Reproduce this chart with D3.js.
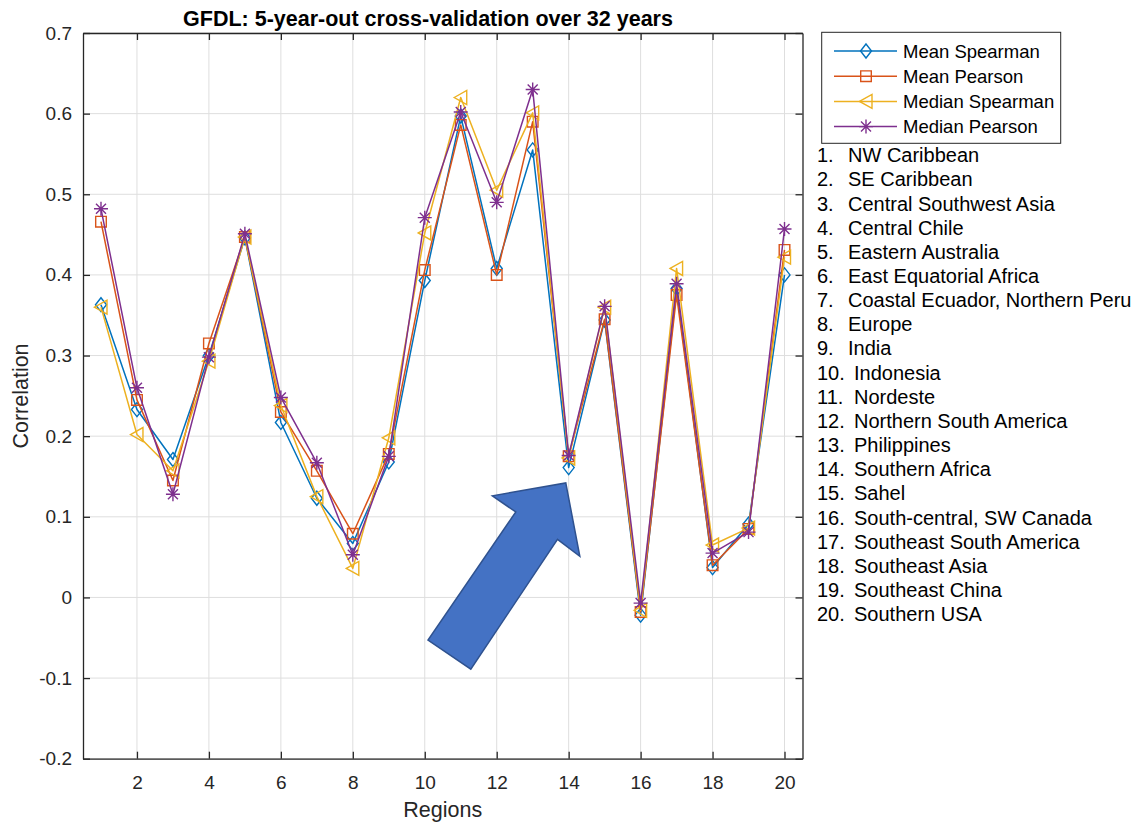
<!DOCTYPE html>
<html>
<head>
<meta charset="utf-8">
<script src="https://cdn.jsdelivr.net/npm/d3@7/dist/d3.min.js"></script>
<style>
  html, body { margin: 0; padding: 0; background: #fff; }
  svg { display: block; font-family: "Liberation Sans", Arial, Helvetica, sans-serif; }
</style>
</head>
<body>
<svg id="chart" width="1142" height="823"></svg>
<script>
// Region numbers along the x axis
const regions = d3.range(1, 21);

// Cross-validated correlation per region, one array per statistic
const meanSpearman   = [0.363, 0.233, 0.171, 0.300, 0.446, 0.217, 0.123, 0.067, 0.168, 0.393, 0.597, 0.408, 0.555, 0.161, 0.344, -0.022, 0.383, 0.037, 0.091, 0.400];
const meanPearson    = [0.466, 0.245, 0.145, 0.315, 0.447, 0.230, 0.157, 0.079, 0.178, 0.406, 0.586, 0.400, 0.590, 0.175, 0.345, -0.018, 0.375, 0.040, 0.085, 0.431];
const medianSpearman = [0.360, 0.202, 0.157, 0.293, 0.447, 0.238, 0.125, 0.036, 0.198, 0.452, 0.620, 0.505, 0.601, 0.173, 0.360, -0.016, 0.408, 0.065, 0.086, 0.422];
const medianPearson  = [0.482, 0.260, 0.128, 0.298, 0.451, 0.248, 0.167, 0.053, 0.175, 0.471, 0.602, 0.490, 0.630, 0.176, 0.361, -0.007, 0.389, 0.055, 0.081, 0.457];

const seriesNames = ["Mean Spearman", "Mean Pearson", "Median Spearman", "Median Pearson"];
const seriesColors = ["#0072BD", "#D95319", "#EDB120", "#7E2F8E"];
const seriesMarkers = ["diamond", "square", "triangleLeft", "asterisk"];

// Axis ticks
const xTicks = [2, 4, 6, 8, 10, 12, 14, 16, 18, 20];
const yTicks = [-0.2, -0.1, 0, 0.1, 0.2, 0.3, 0.4, 0.5, 0.6, 0.7];
const yTickLabels = ["-0.2", "-0.1", "0", "0.1", "0.2", "0.3", "0.4", "0.5", "0.6", "0.7"];

// Region names listed beside the legend
const regionNames = [
  "NW Caribbean", "SE Caribbean", "Central Southwest Asia", "Central Chile",
  "Eastern Australia", "East Equatorial Africa", "Coastal Ecuador, Northern Peru",
  "Europe", "India", "Indonesia", "Nordeste", "Northern South America",
  "Philippines", "Southern Africa", "Sahel", "South-central, SW Canada",
  "Southeast South America", "Southeast Asia", "Southeast China", "Southern USA"
];

// Callout arrow outline, in (region, correlation) units
const arrowX = [13.92, 14.31, 13.69, 11.28, 10.09, 12.53, 11.88];
const arrowY = [0.142, 0.051, 0.072, -0.089, -0.053, 0.106, 0.126];

const series = [meanSpearman, meanPearson, medianSpearman, medianPearson];

const svg = d3.select("#chart");
const plot = { left: 83, right: 802.5, top: 33, bottom: 758.7 };

const x = d3.scaleLinear().domain([0.5, 20.5]).range([plot.left, plot.right]);
const y = d3.scaleLinear().domain([-0.2, 0.7]).range([plot.bottom, plot.top]);

const axisColor = "#262626";
const gridColor = "#dedede";

// Grid
const grid = svg.append("g");
grid.selectAll("line.gx").data(xTicks).join("line")
  .attr("x1", d => x(d)).attr("x2", d => x(d))
  .attr("y1", plot.top).attr("y2", plot.bottom)
  .attr("stroke", gridColor).attr("stroke-width", 1);
grid.selectAll("line.gy").data(yTicks).join("line")
  .attr("x1", plot.left).attr("x2", plot.right)
  .attr("y1", d => y(d)).attr("y2", d => y(d))
  .attr("stroke", gridColor).attr("stroke-width", 1);

// Axes with inward ticks on all four sides
const tickLen = 7;
const fmtY = d => yTickLabels[yTicks.indexOf(d)];
const styleAxis = g => {
  g.select(".domain").attr("stroke", axisColor).attr("stroke-width", 1.3);
  g.selectAll(".tick line").attr("stroke", axisColor).attr("stroke-width", 1.3);
  g.selectAll(".tick text").attr("fill", axisColor)
    .style("font-size", "19px").style("font-family", "'Liberation Sans', Arial, sans-serif");
};

svg.append("g").attr("transform", `translate(0,${plot.bottom})`)
  .call(d3.axisBottom(x).tickValues(xTicks).tickSize(-tickLen).tickPadding(17).tickSizeOuter(0))
  .call(styleAxis);
svg.append("g").attr("transform", `translate(0,${plot.top})`)
  .call(d3.axisTop(x).tickValues(xTicks).tickSize(-tickLen).tickFormat("").tickSizeOuter(0))
  .call(styleAxis);
svg.append("g").attr("transform", `translate(${plot.left},0)`)
  .call(d3.axisLeft(y).tickValues(yTicks).tickSize(-tickLen).tickPadding(11).tickFormat(fmtY).tickSizeOuter(0))
  .call(styleAxis);
svg.append("g").attr("transform", `translate(${plot.right},0)`)
  .call(d3.axisRight(y).tickValues(yTicks).tickSize(-tickLen).tickFormat("").tickSizeOuter(0))
  .call(styleAxis);

// Marker shapes
function markerPath(type) {
  switch (type) {
    case "diamond": return "M0,-7L5.5,0L0,7L-5.5,0Z";
    case "square": return "M-5.3,-5.3H5.3V5.3H-5.3Z";
    case "triangleLeft": return "M-6.5,0L6,-7L6,7Z";
    case "asterisk": return "M0,-7V7M-7,0H7M-5,-5L5,5M-5,5L5,-5";
  }
}

const line = d3.line().x((d, i) => x(regions[i])).y(d => y(d));

series.forEach((vals, s) => {
  const g = svg.append("g");
  g.append("path").datum(vals)
    .attr("d", line)
    .attr("fill", "none")
    .attr("stroke", seriesColors[s])
    .attr("stroke-width", 1.5)
    .attr("stroke-linejoin", "round");
  g.selectAll("path.m").data(vals).join("path")
    .attr("class", "m")
    .attr("transform", (d, i) => `translate(${x(regions[i])},${y(d)})`)
    .attr("d", markerPath(seriesMarkers[s]))
    .attr("fill", "none")
    .attr("stroke", seriesColors[s])
    .attr("stroke-width", 1.4);
});

// Callout arrow
svg.append("path")
  .datum(arrowX.map((v, i) => [x(v), y(arrowY[i])]))
  .attr("d", d => "M" + d.join("L") + "Z")
  .attr("fill", "#4472C4")
  .attr("stroke", "#2F528F")
  .attr("stroke-width", 1.5)
  .attr("stroke-linejoin", "miter");

// Title and axis labels
svg.append("text")
  .attr("x", 428).attr("y", 26)
  .attr("text-anchor", "middle")
  .style("font-size", "21.5px").style("font-weight", "bold")
  .attr("fill", "#000")
  .text("GFDL: 5-year-out cross-validation over 32 years");

svg.append("text")
  .attr("x", (plot.left + plot.right) / 2).attr("y", 817)
  .attr("text-anchor", "middle")
  .style("font-size", "21.5px")
  .attr("fill", axisColor)
  .text("Regions");

svg.append("text")
  .attr("transform", "translate(28,396) rotate(-90)")
  .attr("text-anchor", "middle")
  .style("font-size", "21.5px")
  .attr("fill", axisColor)
  .text("Correlation");

// Legend
const legend = svg.append("g");
legend.append("rect")
  .attr("x", 821.7).attr("y", 32.3).attr("width", 239).attr("height", 111)
  .attr("fill", "#fff").attr("stroke", axisColor).attr("stroke-width", 1);
seriesNames.forEach((name, s) => {
  const cy = 51 + s * 25.2;
  legend.append("line")
    .attr("x1", 834).attr("x2", 897).attr("y1", cy).attr("y2", cy)
    .attr("stroke", seriesColors[s]).attr("stroke-width", 1.5);
  legend.append("path")
    .attr("transform", `translate(866,${cy})`)
    .attr("d", markerPath(seriesMarkers[s]))
    .attr("fill", "none").attr("stroke", seriesColors[s]).attr("stroke-width", 1.4);
  legend.append("text")
    .attr("x", 903).attr("y", cy).attr("dy", "0.36em")
    .style("font-size", "18.5px").attr("fill", "#000")
    .text(name);
});

// Numbered region list
const list = svg.append("g");
regionNames.forEach((name, i) => {
  const cy = 155 + i * 24.16;
  list.append("text")
    .attr("x", 817).attr("y", cy).attr("dy", "0.36em")
    .style("font-size", "20px").attr("fill", "#000")
    .text((i + 1) + ".");
  list.append("text")
    .attr("x", i < 9 ? 848 : 854).attr("y", cy).attr("dy", "0.36em")
    .style("font-size", "20px").attr("fill", "#000")
    .text(name);
});
</script>
</body>
</html>
